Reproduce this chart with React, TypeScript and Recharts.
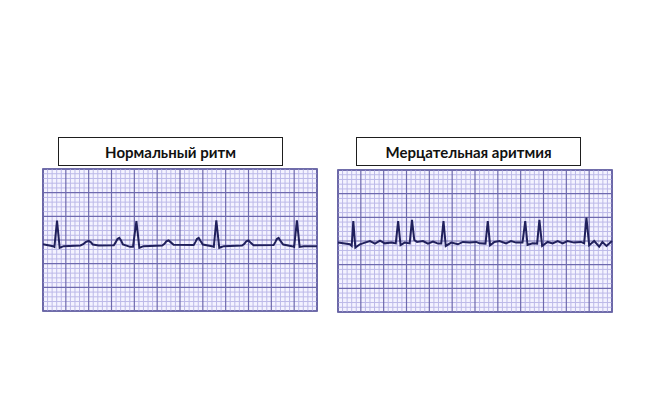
import { LineChart, Line, XAxis, YAxis, ReferenceLine, ReferenceArea } from 'recharts';

// ECG paper: 12 x 6 big squares, each split into 5 small ones
const paperCols = 60;
const paperRows = 30;

const panelTitles = ['Нормальный ритм', 'Мерцательная аритмия'];

// sinus rhythm: time (small squares) and voltage (small squares)
const normalT = [
  0, 2.2, 2.5, 3.07, 3.65, 4.5, 8.2, 8.8, 9.4, 10.0, 10.5, 10.9, 12.2, 15.5, 15.9, 16.3, 16.7, 17.1, 17.5,
  19.1, 19.7, 20.45, 21.1, 22.0, 26.1, 26.6, 27.0, 27.5, 28.0, 28.6, 33.0, 33.4, 33.7, 34.1, 34.5, 35.0,
  37.0, 37.4, 37.95, 38.6, 39.6, 43.6, 44.1, 44.5, 45.0, 45.5, 46.1, 50.5, 50.9, 51.2, 51.6, 52.0, 52.6,
  54.5, 55.0, 55.6, 56.2, 57.1, 60,
];
const normalV = [
  14.1, 13.7, 13.55, 19.1, 13.35, 13.7, 13.85, 14.1, 14.6, 14.8, 14.5, 14.05, 13.85, 13.9, 14.5, 15.2,
  15.45, 14.9, 14.05, 13.55, 13.55, 19.0, 13.35, 13.7, 13.85, 14.2, 14.7, 14.9, 14.5, 14.0, 13.95, 14.6,
  15.2, 15.45, 14.8, 14.05, 13.7, 13.55, 19.15, 13.35, 13.7, 13.85, 14.2, 14.7, 14.9, 14.4, 13.9, 13.95,
  14.6, 15.2, 15.45, 14.8, 14.05, 13.7, 13.55, 19.15, 13.55, 13.7, 13.7,
];

// atrial fibrillation: irregular QRS over a wavy baseline
const afibT = [
  0, 2.6, 3.0, 3.35, 3.8, 4.8, 5.9, 7.0, 8.1, 9.2, 10.25, 11.7, 12.65, 13.17, 13.7, 14.6, 15.7, 16.2,
  16.7, 17.3, 18.6, 19.7, 20.8, 21.9, 22.6, 23.1, 23.6, 24.8, 26.25, 27.35, 28.8, 30.25, 31.0, 32.3,
  32.8, 33.3, 34.25, 35.35, 36.8, 37.9, 39.0, 40.4, 41.0, 41.5, 42.6, 43.6, 44.1, 44.7, 45.9, 47.0,
  48.1, 49.2, 50.25, 51.7, 53.2, 53.9, 54.4, 55.0, 56.1, 57.2, 57.9, 58.8, 60,
];
const afibV = [
  14.7, 14.3, 13.95, 19.2, 13.6, 14.3, 14.66, 15.0, 14.45, 15.08, 14.5, 14.66, 14.5, 19.2, 14.15, 14.66,
  14.5, 19.45, 15.2, 14.8, 15.0, 14.45, 14.87, 14.45, 14.45, 19.2, 13.95, 14.66, 14.3, 14.8, 14.66, 14.8,
  14.5, 14.45, 19.2, 14.1, 14.8, 15.0, 14.5, 15.0, 14.66, 14.66, 19.2, 14.15, 14.5, 14.45, 19.45, 13.95,
  14.8, 14.5, 15.0, 14.5, 15.0, 14.66, 14.8, 14.5, 19.95, 14.1, 15.0, 13.8, 14.8, 13.95, 15.0,
];

const normalData = normalT.map((t, i) => ({ t, v: normalV[i] }));
const afibData = afibT.map((t, i) => ({ t, v: afibV[i] }));

const colTicks = Array.from({ length: paperCols + 1 }, (_, i) => i);
const rowTicks = Array.from({ length: paperRows + 1 }, (_, i) => i);

const EcgStrip = ({ data }: { data: { t: number; v: number }[] }) => (
  <LineChart width={276} height={144} data={data} margin={{ top: 1, right: 1, bottom: 1, left: 1 }}>
    <XAxis dataKey="t" type="number" domain={[0, paperCols]} hide />
    <YAxis type="number" domain={[0, paperRows]} hide />
    <ReferenceArea x1={0} x2={paperCols} y1={0} y2={paperRows} fill="#f4f3ff" fillOpacity={1} stroke="none" />
    {colTicks.filter((c) => c % 5 !== 0).map((c) => (
      <ReferenceLine key={'mx' + c} x={c} stroke="#bcb9e8" strokeWidth={1} />
    ))}
    {rowTicks.filter((r) => r % 5 !== 0).map((r) => (
      <ReferenceLine key={'my' + r} y={r} stroke="#bcb9e8" strokeWidth={1} />
    ))}
    {colTicks.filter((c) => c % 5 === 0).map((c) => (
      <ReferenceLine key={'Mx' + c} x={c} stroke="#6e6aae" strokeWidth={1.2} />
    ))}
    {rowTicks.filter((r) => r % 5 === 0).map((r) => (
      <ReferenceLine key={'My' + r} y={r} stroke="#6e6aae" strokeWidth={1.2} />
    ))}
    <ReferenceArea x1={0} x2={paperCols} y1={0} y2={paperRows} fill="none" stroke="#45428a" strokeWidth={1.6} />
    <Line
      type="linear"
      dataKey="v"
      stroke="#20205c"
      strokeWidth={2}
      dot={false}
      isAnimationActive={false}
    />
  </LineChart>
);

const titleStyle = {
  position: 'absolute' as const,
  width: 225,
  height: 29,
  boxSizing: 'border-box' as const,
  border: '1.5px solid #1e1e1e',
  background: '#fff',
  display: 'flex',
  alignItems: 'center',
  justifyContent: 'center',
  fontFamily: 'Lato, "Open Sans", sans-serif',
  fontWeight: 700,
  fontSize: 15,
  color: '#111',
};

export default function App() {
  return (
    <div style={{ position: 'absolute', left: 0, top: 0, width: 660, height: 420, background: '#fff' }}>
      <div style={{ ...titleStyle, left: 58, top: 137 }}>{panelTitles[0]}</div>
      <div style={{ ...titleStyle, left: 356, top: 137 }}>{panelTitles[1]}</div>
      <div style={{ position: 'absolute', left: 42, top: 168 }}>
        <EcgStrip data={normalData} />
      </div>
      <div style={{ position: 'absolute', left: 337, top: 169 }}>
        <EcgStrip data={afibData} />
      </div>
    </div>
  );
}
